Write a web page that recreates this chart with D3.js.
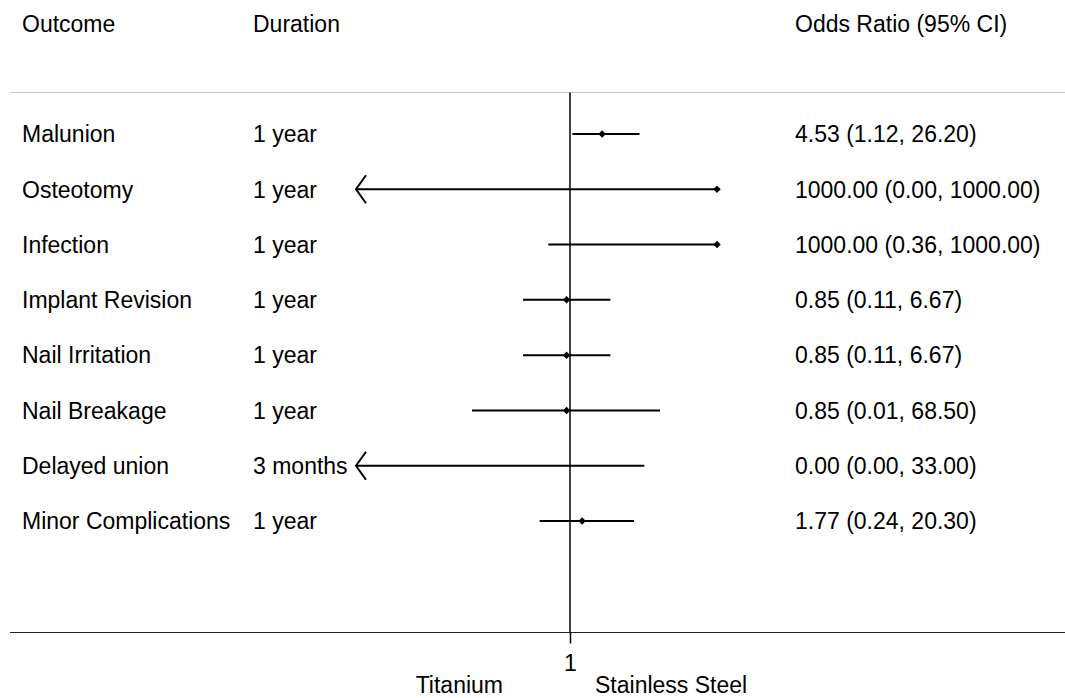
<!DOCTYPE html>
<html>
<head>
<meta charset="utf-8">
<script src="https://d3js.org/d3.v7.min.js"></script>
<style>
  body { margin: 0; background: #fff; }
  svg text { font-family: "Liberation Sans", Arial, sans-serif; font-size: 23px; fill: #000; }
</style>
</head>
<body>
<div id="forest"></div>
<script>
// data
var outcomes = ["Malunion", "Osteotomy", "Infection", "Implant Revision", "Nail Irritation", "Nail Breakage", "Delayed union", "Minor Complications"];
var durations = ["1 year", "1 year", "1 year", "1 year", "1 year", "1 year", "3 months", "1 year"];
var oddsRatio = [4.53, 1000.00, 1000.00, 0.85, 0.85, 0.85, 0.00, 1.77];
var ciLower = [1.12, 0.00, 0.36, 0.11, 0.11, 0.01, 0.00, 0.24];
var ciUpper = [26.20, 1000.00, 1000.00, 6.67, 6.67, 68.50, 33.00, 20.30];
var headers = ["Outcome", "Duration", "Odds Ratio (95% CI)"];
var sideLabels = ["Titanium", "Stainless Steel"];

var rows = outcomes.map(function(o, i) {
  return { outcome: o, duration: durations[i], or: oddsRatio[i], lo: ciLower[i], hi: ciUpper[i] };
});

var width = 1065, height = 698;

var svg = d3.select("#forest")
  .append("svg")
  .attr("width", width)
  .attr("height", height);

// log scale for the odds ratio, anything below the left limit gets an arrow
var x = d3.scaleLog()
  .domain([0.001, 1000])
  .range([423, 717]);
var xLeftLimit = 356;

var y = d3.scalePoint()
  .domain(outcomes)
  .range([134, 521]);

function px(v) {
  if (v <= 0) return xLeftLimit;
  return Math.max(xLeftLimit, x(v));
}

// header
svg.append("text").attr("x", 22).attr("y", 32).text(headers[0]);
svg.append("text").attr("x", 253).attr("y", 32).text(headers[1]);
svg.append("text").attr("x", 795).attr("y", 32).text(headers[2]);

svg.append("line")
  .attr("x1", 10).attr("x2", width)
  .attr("y1", 92.5).attr("y2", 92.5)
  .attr("stroke", "#c8c8c8")
  .attr("stroke-width", 1);

// bottom axis
var axisY = 632.5;
var axis = svg.append("g")
  .attr("transform", "translate(0," + axisY + ")")
  .call(d3.axisBottom(x).tickValues([1]).tickFormat(d3.format("d")).tickSize(11).tickPadding(11).tickSizeOuter(0));
axis.select(".domain").remove();
axis.selectAll(".tick line").attr("stroke", "#000").attr("stroke-width", 1.5);
axis.selectAll(".tick text")
  .attr("font-family", null).attr("font-size", null)
  .style("font-family", "'Liberation Sans', Arial, sans-serif").style("font-size", "23px").style("fill", "#000");

svg.append("line")
  .attr("x1", 10).attr("x2", width)
  .attr("y1", axisY).attr("y2", axisY)
  .attr("stroke", "#222")
  .attr("stroke-width", 1);

// reference line at OR = 1
svg.append("line")
  .attr("x1", x(1)).attr("x2", x(1))
  .attr("y1", 92.5).attr("y2", axisY)
  .attr("stroke", "#000")
  .attr("stroke-width", 1.5);

svg.append("text")
  .attr("x", x(1) - 67).attr("y", 693)
  .attr("text-anchor", "end")
  .text(sideLabels[0]);
svg.append("text")
  .attr("x", x(1) + 25).attr("y", 693)
  .text(sideLabels[1]);

// row labels
var row = svg.selectAll(".row")
  .data(rows)
  .enter()
  .append("g")
  .attr("class", "row")
  .attr("transform", function(d) { return "translate(0," + y(d.outcome) + ")"; });

row.append("text").attr("x", 22).attr("dy", "0.36em").text(function(d) { return d.outcome; });
row.append("text").attr("x", 253).attr("dy", "0.36em").text(function(d) { return d.duration; });
row.append("text").attr("x", 795).attr("dy", "0.36em")
  .text(function(d) { return d.or.toFixed(2) + " (" + d.lo.toFixed(2) + ", " + d.hi.toFixed(2) + ")"; });

// confidence intervals
row.append("line")
  .attr("x1", function(d) { return px(d.lo); })
  .attr("x2", function(d) { return px(d.hi); })
  .attr("y1", 0).attr("y2", 0)
  .attr("stroke", "#000")
  .attr("stroke-width", 2);

// arrows where the lower bound runs off the left
row.filter(function(d) { return d.lo <= 0 || x(d.lo) < xLeftLimit; })
  .append("path")
  .attr("d", "M" + (xLeftLimit + 10) + ",-14L" + xLeftLimit + ",0L" + (xLeftLimit + 10) + ",14")
  .attr("fill", "none")
  .attr("stroke", "#000")
  .attr("stroke-width", 2);

// point estimates (square turned 45 degrees)
row.filter(function(d) { return d.or > 0 && x(d.or) >= xLeftLimit; })
  .append("path")
  .attr("transform", function(d) { return "translate(" + x(d.or) + ",0) rotate(45)"; })
  .attr("d", d3.symbol().type(d3.symbolSquare).size(28))
  .attr("fill", "#000");
</script>
</body>
</html>
